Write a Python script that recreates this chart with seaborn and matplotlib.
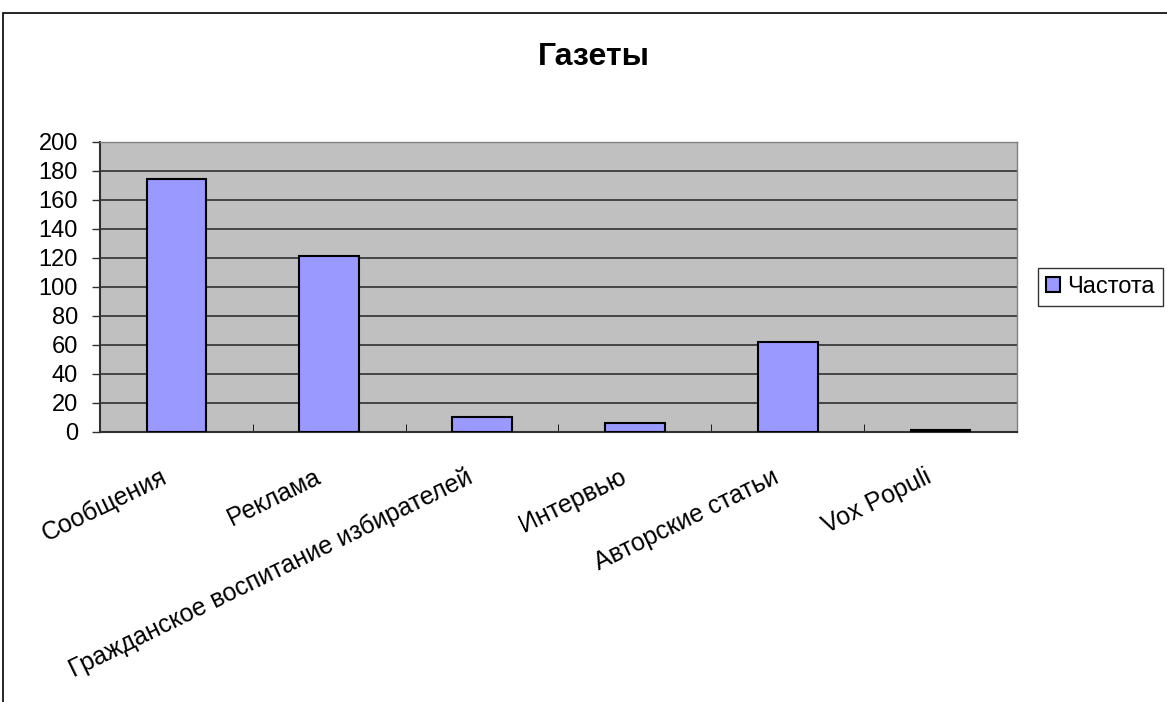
import pandas as pd
import numpy as np
import matplotlib.pyplot as plt
import matplotlib.transforms as mtrans
import seaborn as sns
from matplotlib.patches import Rectangle

categories = ["Сообщения", "Реклама", "Гражданское воспитание избирателей",
              "Интервью", "Авторские статьи", "Vox Populi"]
values = [174, 121, 10, 6, 62, 1]
series_name = "Частота"

df = pd.DataFrame({"cat": categories, "val": values})

sns.set_style("white", {"text.color": "black", "xtick.color": "black", "ytick.color": "black"})
plt.rcParams['font.family'] = ['Liberation Sans', 'DejaVu Sans']

fig = plt.figure(figsize=(11.67, 7.02), dpi=100)
ax = fig.add_axes([100/1167, 1-431.7/702, 917/1167, 290/702])
ax.set_facecolor('#C0C0C0')

sns.barplot(data=df, x="cat", y="val", color='#9999FF', edgecolor='black',
            linewidth=1.5, width=0.39, saturation=1, label=series_name, ax=ax, zorder=3)

ax.set_ylim(0, 200)
ax.set_yticks(np.arange(0, 201, 20))
ax.set_xlim(-0.5, len(categories) - 0.5)
ax.yaxis.grid(True, color='#303030', linewidth=1.2, zorder=0)
ax.set_axisbelow(True)
ax.set_xlabel("")
ax.set_ylabel("")

ax.set_xticks(np.arange(len(categories)))
ax.set_xticklabels(categories, rotation=26, ha='right', rotation_mode='anchor', fontsize=18, color='black')
ax.tick_params(axis='x', length=0, pad=24)
# shift labels slightly to the left of the category centre
offset = mtrans.ScaledTranslation(-16/100, 0, fig.dpi_scale_trans)
for lbl in ax.get_xticklabels():
    lbl.set_transform(lbl.get_transform() + offset)
ax.tick_params(axis='y', labelsize=17, labelcolor='black', length=6, width=1, color='#303030',
               direction='out', left=True, pad=10)
# category boundary ticks
ax.set_xticks(np.arange(len(categories) + 1) - 0.5, minor=True)
ax.tick_params(axis='x', which='minor', length=6, direction='in', color='black', bottom=True)

for s in ['top', 'right']:
    ax.spines[s].set_color('#808080')
    ax.spines[s].set_linewidth(1)
for s in ['left', 'bottom']:
    ax.spines[s].set_color('#303030')
    ax.spines[s].set_linewidth(1.5)

fig.text(594/1167, 1-57/702, "Газеты", ha='center', va='center', fontsize=23,
         fontweight='bold', color='black')

leg = ax.legend(loc='center left', bbox_to_anchor=(1038/1167, 1-287/702),
                bbox_transform=fig.transFigure, frameon=True, fontsize=17,
                fancybox=False, edgecolor='black', handlelength=0.6, handleheight=0.6,
                handletextpad=0.3, borderpad=0.35, borderaxespad=0)
leg.get_frame().set_linewidth(1)
for t in leg.get_texts():
    t.set_color('black')

fig.patches.append(Rectangle((3/1167, -0.1), 1.2, 1.1 - 13/702, transform=fig.transFigure,
                             fill=False, edgecolor='black', linewidth=1.2))

fig.savefig("out.png", dpi=100)
